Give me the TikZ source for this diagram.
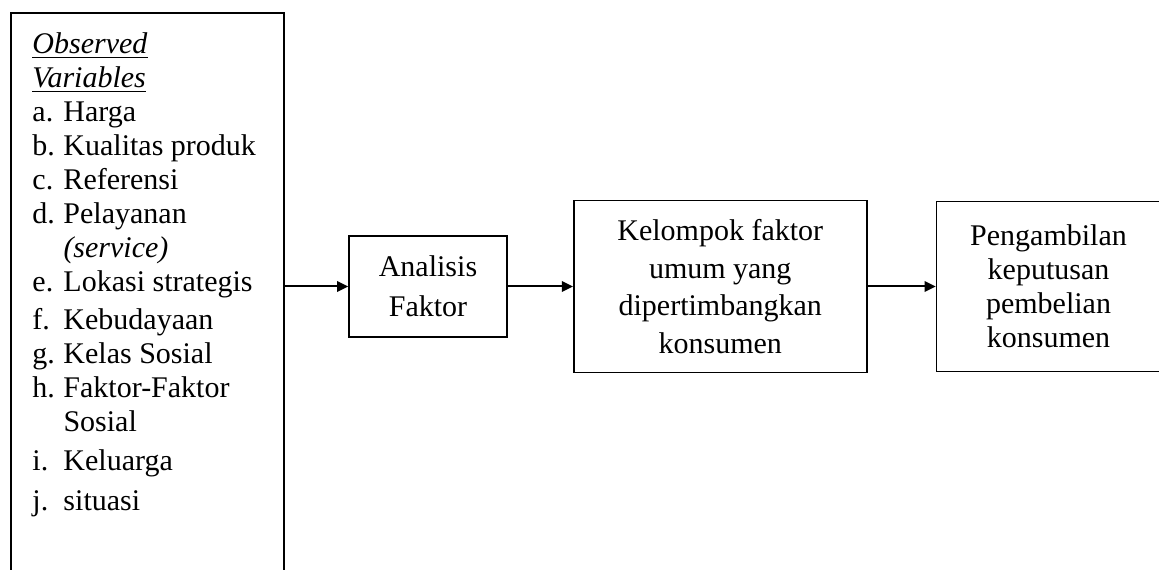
\documentclass[tikz,border=0pt]{standalone}
\usepackage{fontspec}
\setmainfont{Liberation Serif}
\usetikzlibrary{positioning, arrows.meta}

\begin{document}
\begin{tikzpicture}[
    x=0.4pt, y=-0.4pt,
    every node/.style={font=\fontsize{12}{13.6}\selectfont},
    box/.style={draw, line width=0.7pt, align=center, inner sep=0pt},
    arr/.style={-{Triangle[length=4.4pt, width=4.2pt]}, line width=0.8pt},
]
\useasboundingbox (0,0) rectangle (1159,570);

% ── Observed variables ──────────────────────────────────────────────────────
\node[draw, line width=0.8pt, anchor=north west, inner sep=0pt,
      minimum width=109.2pt, minimum height=231.2pt] (obs) at (10,12) {};
\node[anchor=north west, inner sep=0pt, align=left] (vars) at (32,29) {%
  \begin{tabular}{@{}p{12.4pt}@{}l@{}}
  \multicolumn{2}{@{}l@{}}{\underline{\textit{Observed}}}\\
  \multicolumn{2}{@{}l@{}}{\underline{\textit{Variables}}}\\
  a. & Harga\\
  b. & Kualitas produk\\
  c. & Referensi\\
  d. & Pelayanan\\
     & \textit{(service)}\\
  e. & Lokasi strategis\\[1.6pt]
  f. & Kebudayaan\\
  g. & Kelas Sosial\\
  h. & Faktor-Faktor\\
     & Sosial\\[2pt]
  i. & Keluarga\\[2.4pt]
  j. & situasi
  \end{tabular}};

% ── Process chain ───────────────────────────────────────────────────────────
\node[box, minimum width=63.2pt, minimum height=40.4pt,
      font=\fontsize{12}{16}\selectfont] (ana) at (428,286.5) {Analisis\\Faktor};
\node[box, minimum width=117.2pt, minimum height=68.8pt,
      font=\fontsize{12}{15}\selectfont, right=26pt of ana] (grp)
      {Kelompok faktor\\umum yang\\dipertimbangkan\\konsumen};
\node[box, minimum width=89.6pt, minimum height=68pt, right=27.2pt of grp] (beli)
      {Pengambilan\\keputusan\\pembelian\\konsumen};

% ── Arrows ──────────────────────────────────────────────────────────────────
\draw[arr] (obs.east |- ana.west) -- (ana.west);
\draw[arr] (ana) -- (grp);
\draw[arr] (grp) -- (beli);

\end{tikzpicture}
\end{document}
